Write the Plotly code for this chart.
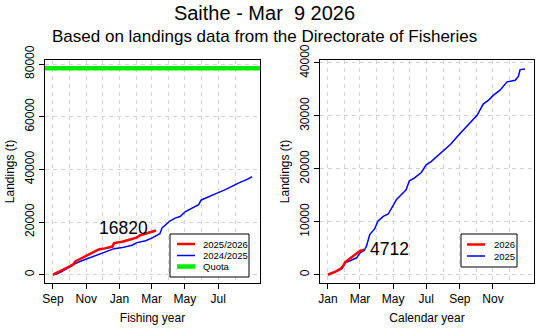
import plotly.graph_objects as go

# ---------------- data ----------------
# Fishing year panel (day index from 1 Sep)
fy_month_days = [0, 30, 61, 91, 122, 153, 181, 212, 242, 273, 303, 334]
fy_tick_days = [0, 61, 122, 181, 242, 303]
fy_tick_labels = ["Sep", "Nov", "Jan", "Mar", "May", "Jul"]

fy_days_cur = [0, 8, 17, 29, 37, 41, 45, 54, 66, 74, 84, 95, 104, 109, 112, 127, 140, 153, 160, 170, 180, 189]
fy_vals_cur = [0, 760, 1800, 3000, 3900, 5000, 5500, 6400, 7600, 8300, 9600, 10000, 10300, 10700, 12000, 12500,
               13300, 14100, 15000, 15700, 16300, 16820]

fy_days_prev = [0, 8, 17, 29, 41, 54, 66, 78, 90, 102, 112, 127, 145, 154, 170, 182, 191, 196, 200, 206,
                215, 224, 233, 243, 255, 267, 272, 285, 301, 316, 328, 340, 356, 365]
fy_vals_prev = [0, 400, 1300, 2900, 4200, 5400, 6300, 7300, 8200, 9100, 9900, 10300, 11200, 12200, 12900,
                14000, 14900, 15600, 17800, 18900, 20500, 21500, 22100, 24000, 25300, 26600, 28400, 29700,
                31000, 32300, 33600, 34800, 36200, 37200]

quota = 78400

# Calendar year panel (day index from 1 Jan)
cy_month_days = [0, 31, 59, 90, 120, 151, 181, 212, 243, 273, 304, 334]
cy_tick_days = [0, 59, 120, 181, 243, 304]
cy_tick_labels = ["Jan", "Mar", "May", "Jul", "Sep", "Nov"]

cy_days_cur = [0, 8, 15, 22, 27, 32, 36, 44, 53, 59, 67]
cy_vals_cur = [0, 300, 650, 1050, 1500, 2400, 2700, 3300, 3900, 4500, 4712]

cy_days_prev = [0, 13, 26, 32, 44, 53, 59, 67, 71, 77, 86, 92, 102, 111, 120, 126, 135, 144, 150, 159, 172,
                181, 190, 202, 214, 226, 238, 251, 263, 275, 286, 296, 305, 317, 330, 345, 351, 354, 363]
cy_vals_prev = [0, 500, 1130, 2260, 2880, 3200, 4140, 4580, 5400, 7590, 8650, 10100, 11030, 11470, 13040,
                14170, 15110, 16050, 17740, 18240, 19310, 20750, 21380, 22450, 23700, 24640, 26080, 27460,
                28900, 30160, 32230, 32980, 33920, 34860, 36430, 36740, 37490, 38750, 38870]

labels_left = ["2025/2026", "2024/2025", "Quota"]
labels_right = ["2026", "2025"]

# ---------------- figure ----------------
FONT = "Liberation Sans, Arial, Helvetica, sans-serif"
W, H = 555, 333
RED, BLUE, GREEN = "#ff0000", "#0000ff", "#00ee00"
LW = {RED: 2.5, BLUE: 1.5, GREEN: 4.5}
TITLE_X = 264.5 / W

def xr(lo, hi):
    d = (hi - lo) * 0.04
    return [lo - d, hi + d]

x_range = xr(0, 365)
yl_range = xr(0, quota)
yr_range = xr(0, 39000)

fig = go.Figure()

fig.add_trace(go.Scatter(x=fy_days_prev, y=fy_vals_prev, mode="lines", name=labels_left[1],
                         line=dict(color=BLUE, width=LW[BLUE]), showlegend=False, xaxis="x", yaxis="y"))
fig.add_trace(go.Scatter(x=fy_days_cur, y=fy_vals_cur, mode="lines", name=labels_left[0],
                         line=dict(color=RED, width=LW[RED]), showlegend=False, xaxis="x", yaxis="y"))
fig.add_trace(go.Scatter(x=x_range, y=[quota, quota], mode="lines", name=labels_left[2],
                         line=dict(color=GREEN, width=LW[GREEN]), showlegend=False, xaxis="x", yaxis="y"))
fig.add_trace(go.Scatter(x=cy_days_prev, y=cy_vals_prev, mode="lines", name=labels_right[1],
                         line=dict(color=BLUE, width=LW[BLUE]), showlegend=False, xaxis="x2", yaxis="y2"))
fig.add_trace(go.Scatter(x=cy_days_cur, y=cy_vals_cur, mode="lines", name=labels_right[0],
                         line=dict(color=RED, width=LW[RED]), showlegend=False, xaxis="x2", yaxis="y2"))

grid = dict(showgrid=True, gridcolor="#d3d3d3", griddash="4px,4px", gridwidth=1)

def xaxis(domain, month_days, tick_days, tick_labels, title, anchor):
    return dict(domain=domain, range=x_range, anchor=anchor, automargin=False,
                tickmode="array", tickvals=tick_days, ticktext=tick_labels,
                ticks="outside", ticklen=5, tickcolor="black", tickwidth=1,
                showline=True, linecolor="black", linewidth=1, mirror=True,
                showgrid=False, zeroline=False,
                minor=dict(tickmode="array", tickvals=month_days, ticks="", **grid),
                tickfont=dict(size=12, color="black", family=FONT),
                title=dict(text=title, font=dict(size=12, color="black", family=FONT), standoff=8))

def yaxis(domain, rng, tickvals, anchor):
    return dict(domain=domain, range=rng, anchor=anchor, automargin=False,
                tickmode="array", tickvals=tickvals, ticktext=[str(v) for v in tickvals],
                tickangle=-90, ticks="outside", ticklen=5, tickcolor="black", tickwidth=1,
                showline=True, linecolor="black", linewidth=1, mirror=True,
                zeroline=False, **grid,
                tickfont=dict(size=12, color="black", family=FONT),
                title=dict(text="Landings (t)", font=dict(size=12, color="black", family=FONT), standoff=6))

ydom = [1 - 283 / H, 1 - 60 / H]

annotations = [
    dict(text="Based on landings data from the Directorate of Fisheries", xref="paper", yref="paper",
         x=TITLE_X, y=1 - 36.5 / H, xanchor="center", yanchor="middle", showarrow=False,
         font=dict(size=17, color="black", family=FONT)),
    dict(text=str(fy_vals_cur[-1]), xref="x", yref="y", x=129, y=17600, showarrow=False,
         xanchor="center", yanchor="middle", font=dict(size=17.5, color="black", family=FONT)),
    dict(text=str(cy_vals_cur[-1]), xref="x2", yref="y2", x=114, y=4900, showarrow=False,
         xanchor="center", yanchor="middle", font=dict(size=17.5, color="black", family=FONT)),
]
shapes = []

def add_legend(box, rows_y, line_x, text_x, labels, colors):
    x0, y0, x1, y1 = box
    shapes.append(dict(type="rect", xref="paper", yref="paper", x0=x0 / W, x1=x1 / W,
                       y0=1 - y1 / H, y1=1 - y0 / H, line=dict(color="black", width=1),
                       fillcolor="white", layer="above"))
    for lab, col, ry in zip(labels, colors, rows_y):
        shapes.append(dict(type="line", xref="paper", yref="paper", x0=line_x[0] / W, x1=line_x[1] / W,
                           y0=1 - ry / H, y1=1 - ry / H, line=dict(color=col, width=LW[col]), layer="above"))
        annotations.append(dict(text=lab, xref="paper", yref="paper", x=text_x / W, y=1 - ry / H,
                                xanchor="left", yanchor="middle", showarrow=False,
                                font=dict(size=9.5, color="black", family=FONT)))

add_legend((170, 234, 249, 277), [244, 255.5, 266.5], (177, 195), 201, labels_left, [RED, BLUE, GREEN])
add_legend((461, 234, 517, 267), [244.5, 256], (467, 485), 492, labels_right, [RED, BLUE])

fig.update_layout(
    width=W, height=H, margin=dict(l=0, r=0, t=0, b=0, autoexpand=False),
    paper_bgcolor="white", plot_bgcolor="white",
    font=dict(family=FONT, color="black"),
    title=dict(text="Saithe - Mar\u00a0 9 2026", x=TITLE_X, xanchor="center", y=1 - 13 / H, yanchor="middle",
               font=dict(size=20, color="black", family=FONT)),
    xaxis=xaxis([45 / W, 260 / W], fy_month_days, fy_tick_days, fy_tick_labels, "Fishing year", "y"),
    yaxis=yaxis(ydom, yl_range, [0, 20000, 40000, 60000, 80000], "x"),
    xaxis2=xaxis([320 / W, 534 / W], cy_month_days, cy_tick_days, cy_tick_labels, "Calendar year", "y2"),
    yaxis2=yaxis(ydom, yr_range, [0, 10000, 20000, 30000, 40000], "x2"),
    showlegend=False,
    annotations=annotations,
    shapes=shapes,
)

fig.write_html("out.html")
